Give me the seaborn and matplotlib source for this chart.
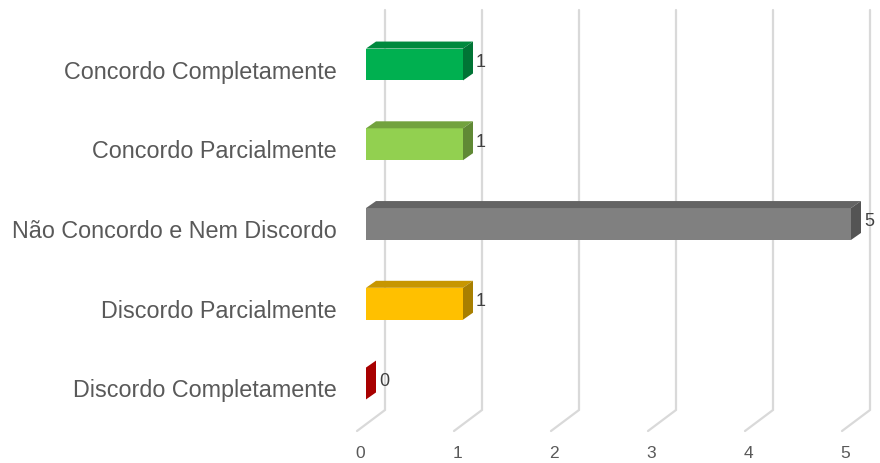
import matplotlib
matplotlib.use("Agg")
import matplotlib.pyplot as plt
import matplotlib.colors as mcolors
from matplotlib.patches import Polygon
from matplotlib.transforms import ScaledTranslation
import seaborn as sns
import pandas as pd

# Survey answers and counts
categories = [
    "Concordo Completamente",
    "Concordo Parcialmente",
    "Não Concordo e Nem Discordo",
    "Discordo Parcialmente",
    "Discordo Completamente",
]
counts = [1, 1, 5, 1, 0]
bar_colors = ["#00B050", "#92D050", "#808080", "#FFC000", "#FF0000"]
x_ticks = [0, 1, 2, 3, 4, 5]

sns.set_theme(style="white")
plt.rcParams["font.family"] = ["Liberation Sans", "DejaVu Sans"]

W, H, DPI = 880, 463, 100
fig = plt.figure(figsize=(W / DPI, H / DPI), dpi=DPI)
fig.patch.set_facecolor("white")

# Axes area in pixels (left edge = value 0 on the bars' front plane)
ax_left_px, ax_bottom_px = 366, 440
ax = fig.add_axes([ax_left_px / W, (H - ax_bottom_px) / H,
                   (W - ax_left_px) / W, ax_bottom_px / H])

df = pd.DataFrame({"categoria": categories, "total": counts})
sns.barplot(data=df, x="total", y="categoria", hue="categoria",
            palette=bar_colors, saturation=1, orient="h", width=0.4,
            legend=False, linewidth=0, ax=ax, zorder=3)

px_x = 97.0          # pixels per unit on x
px_y = 79.75         # pixels per category step
xmax = (W - ax_left_px) / px_x
ytop = -64.5 / px_y
ybot = ytop + ax_bottom_px / px_y
ax.set_xlim(0, xmax)
ax.set_ylim(ybot, ytop)

def dxu(p):
    return p / px_x

def dyu(p):
    return p / px_y

def shade(c, f):
    r, g, b = mcolors.to_rgb(c)
    return (r * f, g * f, b * f)

bars = sorted([p for p in ax.patches], key=lambda p: p.get_y())

# Depth faces of the bars (top and right side) plus value labels
bdx, bdy = dxu(10), dyu(7)
for patch, col, val in zip(bars, bar_colors, counts):
    x0 = patch.get_x()
    w = patch.get_width()
    y0 = patch.get_y()
    h = patch.get_height()
    top = Polygon([(x0, y0), (x0 + w, y0), (x0 + w + bdx, y0 - bdy), (x0 + bdx, y0 - bdy)],
                  closed=True, facecolor=shade(col, 0.78), edgecolor="none", zorder=3)
    side = Polygon([(x0 + w, y0), (x0 + w, y0 + h), (x0 + w + bdx, y0 + h - bdy),
                    (x0 + w + bdx, y0 - bdy)],
                   closed=True, facecolor=shade(col, 0.66), edgecolor="none", zorder=3)
    ax.add_patch(top)
    ax.add_patch(side)
    ax.annotate(str(val), xy=(x0 + w, y0 + h / 2), xytext=(13, 2),
                textcoords="offset pixels", ha="left", va="center",
                fontsize=13, color="#404040", annotation_clip=False)

# Gridlines on the back wall with the floor diagonal
grid_top = ytop + dyu(10)
grid_back_floor = ytop + dyu(410)
grid_front_floor = ytop + dyu(431)
for v in x_ticks:
    xb = v + dxu(19)
    xf = v - dxu(9)
    ax.plot([xb, xb, xf], [grid_top, grid_back_floor, grid_front_floor],
            color="#D9D9D9", lw=1.6, zorder=1, clip_on=False,
            solid_joinstyle="miter")

ax.grid(False)
for s in ax.spines.values():
    s.set_visible(False)

ax.set_xlabel("")
ax.set_ylabel("")
ax.set_xticks(x_ticks)
ax.set_xticklabels([str(v) for v in x_ticks])
ax.tick_params(axis="x", length=0, pad=4, labelsize=12.5, labelcolor="#595959")
ax.tick_params(axis="y", length=0, pad=21, labelsize=16.8, labelcolor="#595959")

for lab in ax.get_xticklabels():
    lab.set_transform(lab.get_transform() + ScaledTranslation(-6 / DPI, 0, fig.dpi_scale_trans))
for lab in ax.get_yticklabels():
    lab.set_transform(lab.get_transform() + ScaledTranslation(0, -5 / DPI, fig.dpi_scale_trans))

fig.savefig("out.png", dpi=DPI)
